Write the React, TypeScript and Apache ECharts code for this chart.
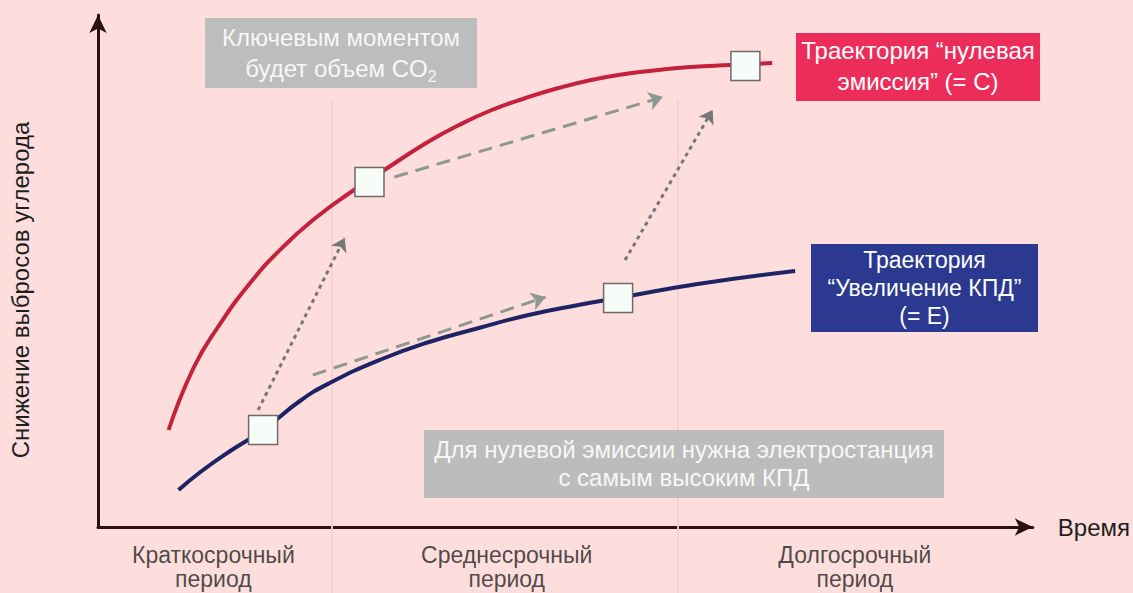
import React, { useEffect, useRef } from "react";
import * as echarts from "echarts";

// Readings (x: time from origin, y: emission reduction above the time axis), in picture units
const redCurve: [number, number][] = [
  [71, 97], [96, 159], [120, 199], [153, 244], [186, 280], [220, 310], [253, 334],
  [288, 357], [330, 384], [363, 402], [396, 417], [430, 429], [463, 439], [496, 447],
  [530, 453], [563, 457], [596, 460], [636, 462], [678, 464],
];
const blueCurve: [number, number][] = [
  [81, 37], [103, 55], [133, 76], [166, 97], [203, 126], [233, 144], [283, 167],
  [333, 185], [383, 199], [433, 212], [483, 222], [523, 229], [603, 243], [701, 256],
];
const keyPoints: [number, number][] = [
  [166, 97], [273, 345], [523, 229], [651, 461],
];
const dashedArrows: [number, number][][] = [
  [[298, 350], [568, 430]],
  [[216, 152], [450, 230]],
];
const dottedArrows: [number, number][][] = [
  [[161, 117], [248, 289]],
  [[530, 267], [618, 417]],
];
const periodDividers: number[] = [235, 583];
const periodCenters: number[] = [116, 411, 761];
const periodLabels: string[] = [
  "Краткосрочный\nпериод",
  "Среднесрочный\nпериод",
  "Долгосрочный\nпериод",
];
const xAxisName = "Время";
const yAxisName = "Снижение выбросов углерода";
const xMax = 940;
const yMax = 512;

const FONT = "'Liberation Sans', Arial, sans-serif";

export default function App() {
  const ref = useRef<HTMLDivElement>(null);
  useEffect(() => {
    if (!ref.current) return;
    const chart = echarts.init(ref.current, undefined, { renderer: "svg" });
    const option: any = {
      animation: false,
      backgroundColor: "#fddedc",
      grid: { left: 97, right: 96, top: 15, bottom: 66 },
      xAxis: {
        type: "value",
        min: 0,
        max: xMax,
        name: xAxisName,
        nameLocation: "end",
        nameGap: 25,
        nameTextStyle: { fontFamily: FONT, fontSize: 24, color: "#1f1f1f", align: "left", verticalAlign: "middle", padding: [8, 0, 0, 0] },
        axisLine: { show: true, symbol: ["none", "arrow"], symbolSize: [13, 18], lineStyle: { color: "#2a1212", width: 3 } },
        axisTick: { show: false },
        axisLabel: { show: false },
        splitLine: { show: false },
      },
      yAxis: {
        type: "value",
        min: 0,
        max: yMax,
        name: yAxisName,
        nameLocation: "middle",
        nameRotate: 90,
        nameGap: 66,
        nameTextStyle: { fontFamily: FONT, fontSize: 24, color: "#1f1f1f", padding: [0, 38, 0, 0] },
        axisLine: { show: true, symbol: ["none", "arrow"], symbolSize: [13, 18], lineStyle: { color: "#2a1212", width: 3 } },
        axisTick: { show: false },
        axisLabel: { show: false },
        splitLine: { show: false },
      },
      series: [
        {
          type: "lines",
          coordinateSystem: "cartesian2d",
          silent: true,
          clip: false,
          symbol: ["none", "none"],
          lineStyle: { color: "#f6cfcf", width: 2, opacity: 0.9 },
          data: periodDividers.map((x) => ({ coords: [[x, 427], [x, -66]] })),
          z: 1,
        },
        {
          type: "line",
          data: redCurve,
          smooth: 0.5,
          showSymbol: false,
          lineStyle: { color: "#c4213d", width: 4 },
          z: 3,
        },
        {
          type: "line",
          data: blueCurve,
          smooth: 0.5,
          showSymbol: false,
          lineStyle: { color: "#1d2364", width: 4 },
          z: 3,
        },
        {
          type: "lines",
          coordinateSystem: "cartesian2d",
          silent: true,
          symbol: ["none", "arrow"],
          symbolSize: 14,
          lineStyle: { color: "#8e9792", width: 3, type: [14, 8], opacity: 1 },
          data: dashedArrows.map((c) => ({ coords: c })),
          z: 4,
        },
        {
          type: "lines",
          coordinateSystem: "cartesian2d",
          silent: true,
          symbol: ["none", "arrow"],
          symbolSize: 13,
          lineStyle: { color: "#777777", width: 3, type: [4, 4], opacity: 1 },
          data: dottedArrows.map((c) => ({ coords: c })),
          z: 4,
        },
        {
          type: "scatter",
          data: keyPoints,
          symbol: "rect",
          symbolSize: 29,
          itemStyle: { color: "#f6fdf8", borderColor: "#6f6a6a", borderWidth: 1.5, opacity: 1 },
          z: 6,
        },
        {
          type: "scatter",
          data: periodCenters.map((x) => [x, 0]),
          symbolSize: 0,
          clip: false,
          silent: true,
          label: {
            show: true,
            position: "bottom",
            distance: 16,
            formatter: (p: any) => periodLabels[p.dataIndex],
            fontFamily: FONT,
            fontSize: 23,
            lineHeight: 24,
            color: "#1f1f1f",
            align: "center",
          },
          z: 5,
        },
      ],
      graphic: [
        { type: "rect", shape: { x: 205, y: 18, width: 272, height: 70 }, style: { fill: "#bdbdbe" }, z: 10 },
        {
          type: "text", x: 341, y: 53, z: 11,
          style: {
            text: "{a|Ключевым моментом}\n{a|будет объем CO}{s|2}",
            align: "center", verticalAlign: "middle",
            rich: {
              a: { fontFamily: FONT, fontSize: 24, lineHeight: 31, fill: "#f7f7f7" },
              s: { fontFamily: FONT, fontSize: 16, lineHeight: 16, fill: "#f7f7f7", verticalAlign: "bottom" },
            },
          },
        },
        { type: "rect", shape: { x: 796, y: 33, width: 244, height: 68 }, style: { fill: "#ec2d5a" }, z: 10 },
        {
          type: "text", x: 918, y: 66, z: 11,
          style: {
            text: "Траектория “нулевая\nэмиссия” (= С)",
            align: "center", verticalAlign: "middle",
            fontFamily: FONT, fontSize: 24, lineHeight: 31, fill: "#ffffff",
          },
        },
        { type: "rect", shape: { x: 811, y: 244, width: 227, height: 88 }, style: { fill: "#2b3990" }, z: 10 },
        {
          type: "text", x: 924.5, y: 288, z: 11,
          style: {
            text: "Траектория\n“Увеличение КПД”\n(= Е)",
            align: "center", verticalAlign: "middle",
            fontFamily: FONT, fontSize: 23, lineHeight: 28, fill: "#ffffff",
          },
        },
        { type: "rect", shape: { x: 424, y: 430, width: 520, height: 68 }, style: { fill: "#bcbcbd" }, z: 10 },
        {
          type: "text", x: 684, y: 463, z: 11,
          style: {
            text: "Для нулевой эмиссии нужна электростанция\nс самым высоким КПД",
            align: "center", verticalAlign: "middle",
            fontFamily: FONT, fontSize: 24, lineHeight: 28, fill: "#f7f7f7",
          },
        },
      ],
    };
    chart.setOption(option);
    return () => chart.dispose();
  }, []);
  return <div ref={ref} style={{ position: "fixed", left: 0, top: 0, width: 1133, height: 593 }} />;
}
